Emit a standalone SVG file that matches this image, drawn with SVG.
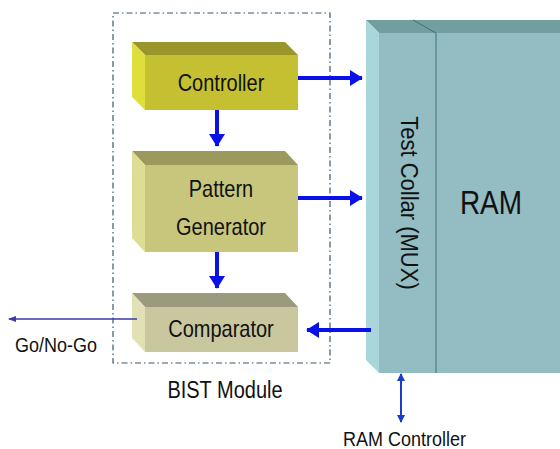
<svg xmlns="http://www.w3.org/2000/svg" width="560" height="449" viewBox="0 0 560 449">
<defs>
<style>
text{font-family:"Liberation Sans",Arial,sans-serif;fill:#111}
.lbl{font-size:20px;text-anchor:middle}
.arr{stroke:#0a10e8;stroke-width:4;fill:none}
</style>
<marker id="ah" markerWidth="4" markerHeight="4" refX="3" refY="2" orient="auto" markerUnits="strokeWidth">
<path d="M0,0 L3.2,2 L0,4 Z" fill="#0a10e8"/>
</marker>
<marker id="ahs" markerWidth="8" markerHeight="8" refX="7" refY="4" orient="auto-start-reverse" markerUnits="userSpaceOnUse">
<path d="M0,0 L8,4 L0,8 Z" fill="#1a3cc8"/>
</marker>
<marker id="aht" markerWidth="8" markerHeight="8" refX="7" refY="4" orient="auto" markerUnits="userSpaceOnUse">
<path d="M0,1 L8,4 L0,7 Z" fill="#3a3aa8"/>
</marker>
</defs>
<rect width="560" height="449" fill="#fff"/>
<g id="bist">
<rect x="113" y="13" width="217" height="350" fill="none" stroke="#3a5670" stroke-width="1.2" stroke-dasharray="6,3,1.5,3"/>
<text transform="translate(225,398) scale(1,1.15)" font-size="20" text-anchor="middle">BIST Module</text>
</g>
<g id="ram">
<polygon points="366,20 560,20 560,33 379,33" fill="#719f9f"/>
<polygon points="366,20 379,33 379,373 366,360" fill="#a9d6da"/>
<rect x="379" y="33" width="181" height="340" fill="#93bcc3"/>
<polyline points="413,20 436,33 436,373" fill="none" stroke="#3e7278" stroke-width="1"/>
<text font-size="22" text-anchor="middle" transform="translate(401,203) rotate(90) scale(1,1.1)">Test Collar (MUX)</text>
<text transform="translate(491,214) scale(1,1.17)" font-size="28" text-anchor="middle">RAM</text>
</g>
<g id="controller">
<polygon points="132,42 285,42 298,55 145,55" fill="#9b962c"/>
<polygon points="132,42 145,55 145,110 132,97" fill="#dede3c"/>
<rect x="145" y="55" width="153" height="55" fill="#c4c032"/>
<text class="lbl" transform="translate(221,91) scale(1,1.17)">Controller</text>
</g>
<g id="pattern">
<polygon points="132,151 285,151 298,165 145,165" fill="#9b9a5c"/>
<polygon points="132,151 145,165 145,252 132,238" fill="#dedd94"/>
<rect x="145" y="165" width="153" height="87" fill="#c8c67c"/>
<text class="lbl" transform="translate(221,197) scale(1,1.17)">Pattern</text>
<text class="lbl" transform="translate(221,235) scale(1,1.17)">Generator</text>
</g>
<g id="comparator">
<polygon points="132,293 285,293 298,307 145,307" fill="#9b9a7e"/>
<polygon points="132,293 145,307 145,352 132,338" fill="#e2e1b6"/>
<rect x="145" y="307" width="153" height="45" fill="#c9c79e"/>
<text class="lbl" transform="translate(221,337) scale(1,1.17)">Comparator</text>
</g>
<g id="connectors">
<line class="arr" x1="217" y1="110" x2="217" y2="146" marker-end="url(#ah)"/>
<line class="arr" x1="217" y1="252" x2="217" y2="288" marker-end="url(#ah)"/>
<line class="arr" x1="298" y1="78" x2="362" y2="78" marker-end="url(#ah)"/>
<line class="arr" x1="298" y1="198" x2="362" y2="198" marker-end="url(#ah)"/>
<line class="arr" x1="371" y1="330" x2="307" y2="330" marker-end="url(#ah)"/>
<line x1="137" y1="319" x2="9" y2="319" stroke="#3a3aa8" stroke-width="1.3" marker-end="url(#aht)"/>
<line x1="401" y1="374" x2="401" y2="422" stroke="#1a3cc8" stroke-width="2" marker-start="url(#ahs)" marker-end="url(#ahs)"/>
</g>
<text transform="translate(15,352) scale(1,1.15)" font-size="18">Go/No-Go</text>
<text transform="translate(343,446) scale(1,1.15)" font-size="18">RAM Controller</text>
</svg>
